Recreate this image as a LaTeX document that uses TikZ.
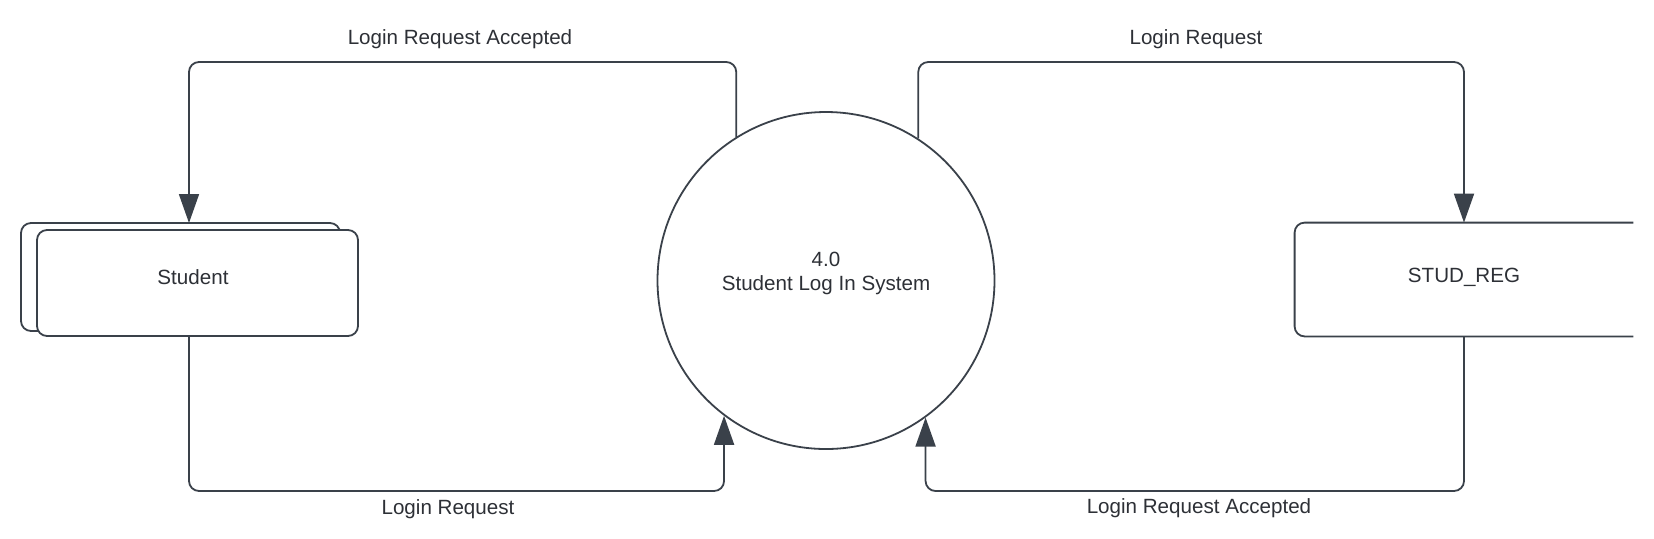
\documentclass[tikz,border=0pt]{standalone}
\usepackage{fontspec}
\setmainfont{Liberation Sans}
\usetikzlibrary{arrows.meta}
\definecolor{linec}{RGB}{58,65,74}
\definecolor{textc}{RGB}{45,48,54}
\tikzset{
  boxline/.style={draw=linec, line width=0.9pt, rounded corners=5pt},
  entbox/.style={boxline, fill=white, inner sep=0pt},
  procc/.style={draw=linec, line width=0.9pt, circle, minimum size=168.5pt, inner sep=0pt},
  flow/.style={draw=linec, line width=0.9pt, rounded corners=5pt, -{Triangle[length=14.5pt,width=10pt]}},
  txt/.style={text=textc, font=\fontsize{10.3pt}{12pt}\selectfont, inner sep=0pt, align=center},
}
\begin{document}
\begin{tikzpicture}[x=0.5pt,y=-0.5pt]
\useasboundingbox (0,0) rectangle (1654,538);
\coordinate (ytop) at (0,62);
\coordinate (ybot) at (0,491);
% Student (stacked boxes)
\node[entbox, minimum width=159.5pt, minimum height=54pt] (stuback) at (180.5,277) {};
\node[entbox, minimum width=160.5pt, minimum height=53pt] (stu) at (197.5,283) {};
\node[txt] (stulabel) at (193,277) {Student};
\coordinate (stutop) at (189,223);
\coordinate (stubot) at (189,336);
% Process
\node[procc] (c) at (826,280.5) {};
\node[txt] (clabel) at (826,273) {4.0\\Student Log In System};
% STUD_REG (right edge cut off)
\node[inner sep=0pt, minimum width=169pt, minimum height=56.5pt] (reg) at (1464,279.5) {};
\draw[boxline] (reg.north east) -- (reg.north west) -- (reg.south west) -- (reg.south east);
\node[txt] (reglabel) at (1464,277) {STUD\_REG};
% Flows
\draw[flow] (c.122.3) -- (c.122.3 |- ytop) -- (stutop |- ytop) -- (stutop);
\node[txt] (l1) at (460,39) {Login Request Accepted};
\draw[flow] (c.57.7) -- (c.57.7 |- ytop) -- (reg.north |- ytop) -- (reg.north);
\node[txt] (l2) at (1196,39) {Login Request};
\draw[flow] (stubot) -- (stubot |- ybot) -- (c.233.2 |- ybot) -- (c.233.2);
\node[txt] (l3) at (448,509) {Login Request};
\draw[flow] (reg.south) -- (reg.south |- ybot) -- (c.306.8 |- ybot) -- (c.306.8);
\node[txt] (l4) at (1199,508) {Login Request Accepted};
\end{tikzpicture}
\end{document}
